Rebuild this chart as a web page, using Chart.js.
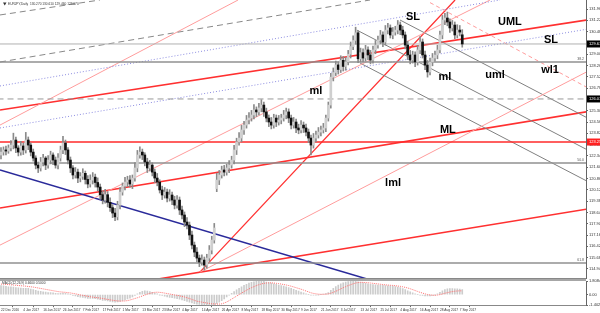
<!DOCTYPE html>
<html>
<head>
<meta charset="utf-8">
<script src="https://cdn.jsdelivr.net/npm/chart.js@4.4.1/dist/chart.umd.min.js"></script>
<style>
html, body { margin: 0; padding: 0; background: #fff; }
#wrap { position: relative; width: 600px; height: 313px; overflow: hidden; background: #fff; }
#cMain { position: absolute; left: 0; top: 0; }
#cMacd { position: absolute; left: 0; top: 279px; }
</style>
</head>
<body>
<div id="wrap">
  <canvas id="cMain" width="600" height="279"></canvas>
  <canvas id="cMacd" width="600" height="34"></canvas>
</div>
<script>
// fechas del eje x (indice de barra -> etiqueta)
const dateBars = [0, 9, 17, 25, 33, 41, 49, 57, 65, 73, 81, 89, 97, 105, 113, 121, 129, 137, 145, 153, 161, 169, 177, 185];
const dateLabels = ['22 Dec 2016', '4 Jan 2017', '16 Jan 2017', '26 Jan 2017', '7 Feb 2017', '17 Feb 2017', '1 Mar 2017',
    '13 Mar 2017', '23 Mar 2017', '4 Apr 2017', '14 Apr 2017', '26 Apr 2017', '8 May 2017', '18 May 2017', '30 May 2017',
    '9 Jun 2017', '21 Jun 2017', '3 Jul 2017', '13 Jul 2017', '25 Jul 2017', '4 Aug 2017', '16 Aug 2017', '28 Aug 2017', '7 Sep 2017'];

const priceTicks = [131.96, 131.22, 130.48, 129.74, 129.00, 128.26, 127.52, 126.78, 126.04, 125.30, 124.56, 123.82,
    123.08, 122.34, 121.60, 120.86, 120.12, 119.38, 118.64, 117.90, 117.16, 116.42, 115.68, 114.94];
const macdTicks = [1.8084, 0, -1.4027];

// velas EURJPY diario
const opens = [
    122.40,122.59,122.73,122.66,122.86,123.05,123.38,122.86,122.59,122.99,
    122.73,123.38,123.05,122.59,122.20,121.74,121.55,121.94,122.20,121.74,
    122.07,122.40,122.07,121.74,122.20,122.73,123.18,122.73,122.07,121.55,
    121.09,121.28,120.89,121.00,121.20,120.80,120.50,120.75,120.95,120.60,
    120.30,119.80,119.45,119.80,119.30,118.95,118.60,118.35,119.12,119.97,
    120.37,120.63,120.76,120.50,120.89,121.55,122.40,122.59,122.40,121.94,
    121.55,121.74,121.28,120.89,120.63,120.11,119.78,119.97,119.58,119.78,
    119.45,119.12,119.45,118.80,118.47,118.01,117.81,117.16,116.50,116.04,
    115.65,115.39,115.52,115.19,115.65,116.17,116.83,120.20,120.76,121.09,
    121.42,121.28,121.55,121.74,122.07,122.73,123.25,123.51,124.04,124.36,
    124.69,124.82,125.02,125.35,125.22,125.48,125.67,125.22,124.82,124.56,
    124.36,124.82,124.56,124.69,124.82,125.02,125.22,124.82,124.36,124.56,
    124.17,124.04,124.36,124.17,123.90,123.51,123.05,123.51,123.71,123.90,
    124.04,124.17,124.82,125.67,127.50,127.80,128.30,128.00,128.60,128.20,
    128.50,129.00,129.50,129.90,130.40,128.70,129.10,128.75,129.28,128.95,
    128.62,129.28,129.60,129.93,130.26,129.80,130.58,130.72,130.26,130.45,
    130.58,130.91,130.58,130.26,129.60,128.95,128.62,128.95,128.49,129.28,
    129.80,128.95,128.29,127.84,128.49,128.75,128.95,129.28,130.26,131.24,
    131.37,131.11,130.72,130.91,130.26,130.58,130.27];
const highs = [
    122.89,122.93,122.98,123.06,123.35,123.83,123.58,123.01,123.29,123.19,
    123.88,123.58,123.20,122.79,122.35,121.94,122.24,122.45,122.30,122.37,
    122.65,122.55,122.27,122.50,122.98,123.63,123.38,122.88,122.27,121.70,
    121.58,121.48,121.25,121.50,121.35,121.05,121.10,121.25,121.15,120.90,
    120.50,120.05,120.15,120.00,119.60,119.15,118.90,119.37,120.27,120.57,
    120.93,121.01,121.06,121.09,121.90,122.70,122.94,122.79,122.55,122.19,
    122.04,121.89,121.48,121.19,120.78,120.36,120.27,120.17,120.13,119.98,
    119.70,119.75,119.65,119.05,118.67,118.31,118.01,117.41,116.70,116.34,
    115.85,115.87,115.72,115.90,116.47,117.08,117.92,121.21,121.39,121.67,
    121.72,121.80,122.04,122.32,123.03,123.50,123.86,124.34,124.61,124.99,
    125.17,125.32,125.70,125.55,125.78,126.02,125.87,125.47,125.02,124.86,
    125.07,125.02,124.99,125.07,125.32,125.47,125.42,125.02,124.86,124.76,
    124.42,124.66,124.56,124.42,124.10,123.71,123.81,123.96,124.20,124.29,
    124.47,125.02,125.87,127.75,128.10,128.55,128.50,128.90,128.85,128.80,
    129.25,129.80,130.20,130.77,130.55,129.40,129.35,129.58,129.48,129.25,
    129.53,129.90,130.18,130.56,130.46,130.88,131.02,130.92,130.75,130.83,
    131.21,131.11,130.83,130.46,129.85,129.25,129.20,129.15,129.58,130.15,
    130.00,129.20,128.59,128.74,129.05,129.20,129.58,130.51,131.54,131.67,
    131.76,131.31,131.21,131.11,130.93,130.88,130.61];
const lows = [
    122.15,122.39,122.41,122.51,122.66,122.80,122.56,122.34,122.39,122.43,
    122.53,122.75,122.34,122.00,121.49,121.25,121.35,121.69,121.44,121.54,
    121.82,121.77,121.54,121.49,122.00,122.48,122.43,121.82,121.25,120.84,
    120.89,120.59,120.64,120.80,120.50,120.25,120.30,120.50,120.30,120.05,
    119.50,119.20,119.25,119.00,118.70,118.30,118.10,118.15,118.87,119.77,
    120.12,120.33,120.30,120.20,120.69,121.30,122.20,122.10,121.69,121.25,
    121.35,121.03,120.59,120.38,119.91,119.48,119.58,119.33,119.38,119.15,
    118.87,118.92,118.50,118.22,117.71,117.56,116.86,116.25,115.74,115.40,
    115.09,115.19,114.86,114.99,115.45,115.92,116.63,120.00,120.46,120.89,
    121.03,121.08,121.25,121.54,121.82,122.43,123.05,123.26,123.74,124.16,
    124.44,124.62,124.77,124.92,125.02,125.23,124.92,124.57,124.26,124.11,
    124.16,124.26,124.36,124.44,124.62,124.77,124.52,124.11,124.16,123.87,
    123.79,123.84,123.87,123.65,123.21,122.40,122.85,123.26,123.51,123.65,
    123.84,123.92,124.62,125.47,127.25,127.60,127.70,127.80,127.90,127.95,
    128.30,128.75,129.30,129.65,128.45,128.50,128.50,128.55,128.65,128.37,
    128.42,129.03,129.40,129.68,129.50,129.60,130.33,130.06,130.01,130.25,
    130.33,130.28,130.06,129.35,128.65,128.37,128.42,128.19,128.29,129.03,
    128.75,127.99,127.50,127.64,128.24,128.55,128.70,129.08,130.01,130.94,
    130.86,130.42,130.52,130.01,130.06,130.20,129.46];
const closes = [
    122.59,122.73,122.66,122.86,123.05,123.38,122.86,122.59,122.99,122.73,
    123.38,123.05,122.59,122.20,121.74,121.55,121.94,122.20,121.74,122.07,
    122.40,122.07,121.74,122.20,122.73,123.18,122.73,122.07,121.55,121.09,
    121.28,120.89,121.00,121.20,120.80,120.50,120.75,120.95,120.60,120.30,
    119.80,119.45,119.80,119.30,118.95,118.60,118.35,119.12,119.97,120.37,
    120.63,120.76,120.50,120.89,121.55,122.40,122.59,122.40,121.94,121.55,
    121.74,121.28,120.89,120.63,120.11,119.78,119.97,119.58,119.78,119.45,
    119.12,119.45,118.80,118.47,118.01,117.81,117.16,116.50,116.04,115.65,
    115.39,115.52,115.19,115.65,116.17,116.83,117.62,120.76,121.09,121.42,
    121.28,121.55,121.74,122.07,122.73,123.25,123.51,124.04,124.36,124.69,
    124.82,125.02,125.35,125.22,125.48,125.67,125.22,124.82,124.56,124.36,
    124.82,124.56,124.69,124.82,125.02,125.22,124.82,124.36,124.56,124.17,
    124.04,124.36,124.17,123.90,123.51,123.05,123.51,123.71,123.90,124.04,
    124.17,124.82,125.67,127.50,127.80,128.30,128.00,128.60,128.20,128.50,
    129.00,129.50,129.90,130.40,128.70,129.10,128.75,129.28,128.95,128.62,
    129.28,129.60,129.93,130.26,129.80,130.58,130.72,130.26,130.45,130.58,
    130.91,130.58,130.26,129.60,128.95,128.62,128.95,128.49,129.28,129.80,
    128.95,128.29,127.84,128.49,128.75,128.95,129.28,130.26,131.24,131.37,
    131.11,130.72,130.91,130.26,130.58,130.45,129.67];

// MACD(12,26,9)
const macdHist = [
    1.20,1.15,1.10,1.05,1.02,1.00,0.95,0.90,0.88,0.85,
    0.85,0.82,0.75,0.68,0.58,0.48,0.42,0.38,0.32,0.28,
    0.26,0.22,0.16,0.14,0.16,0.20,0.18,0.10,0.00,-0.10,
    -0.18,-0.26,-0.34,-0.38,-0.44,-0.50,-0.52,-0.52,-0.55,-0.60,
    -0.68,-0.76,-0.78,-0.84,-0.90,-0.96,-1.00,-0.98,-0.92,-0.82,
    -0.70,-0.58,-0.46,-0.30,-0.12,0.10,0.30,0.44,0.50,0.48,
    0.40,0.30,0.20,0.10,-0.02,-0.12,-0.22,-0.30,-0.36,-0.42,
    -0.48,-0.54,-0.62,-0.70,-0.80,-0.90,-1.02,-1.12,-1.20,-1.26,
    -1.30,-1.34,-1.38,-1.40,-1.40,-1.38,-1.34,-1.20,-1.02,-0.80,
    -0.56,-0.30,-0.06,0.18,0.40,0.62,0.84,1.04,1.22,1.38,
    1.52,1.62,1.70,1.76,1.80,1.81,1.76,1.68,1.60,1.52,
    1.44,1.36,1.28,1.20,1.12,1.04,0.94,0.82,0.70,0.58,
    0.46,0.34,0.22,0.10,0.00,-0.06,-0.08,-0.06,-0.04,0.00,
    0.06,0.14,0.28,0.56,0.84,1.08,1.28,1.44,1.56,1.66,
    1.74,1.80,1.81,1.78,1.70,1.62,1.56,1.50,1.44,1.38,
    1.34,1.30,1.28,1.26,1.22,1.20,1.18,1.16,1.12,1.06,
    1.00,0.92,0.80,0.66,0.50,0.36,0.22,0.10,0.00,-0.08,
    -0.12,-0.16,-0.18,-0.16,-0.10,-0.02,0.10,0.30,0.50,0.66,
    0.76,0.80,0.80,0.78,0.76,0.72,0.66];
const macdSignal = [
    1.40,1.38,1.36,1.33,1.30,1.27,1.24,1.21,1.18,1.15,
    1.12,1.08,1.04,1.00,0.94,0.88,0.82,0.76,0.70,0.64,
    0.58,0.52,0.46,0.40,0.36,0.33,0.30,0.26,0.22,0.16,
    0.10,0.04,-0.04,-0.10,-0.16,-0.22,-0.28,-0.34,-0.38,-0.42,
    -0.46,-0.52,-0.58,-0.64,-0.70,-0.75,-0.80,-0.84,-0.86,-0.86,
    -0.84,-0.80,-0.72,-0.62,-0.52,-0.42,-0.30,-0.18,-0.06,0.06,
    0.16,0.24,0.30,0.32,0.30,0.26,0.20,0.14,0.08,0.02,
    -0.04,-0.10,-0.16,-0.24,-0.32,-0.42,-0.52,-0.64,-0.76,-0.88,
    -0.94,-1.00,-1.06,-1.12,-1.17,-1.21,-1.24,-1.26,-1.26,-1.22,
    -1.12,-0.98,-0.80,-0.60,-0.40,-0.20,0.00,0.20,0.40,0.58,
    0.76,0.92,1.06,1.20,1.32,1.42,1.50,1.54,1.56,1.56,
    1.54,1.50,1.46,1.40,1.34,1.28,1.20,1.12,1.02,0.92,
    0.82,0.72,0.60,0.48,0.36,0.24,0.16,0.10,0.06,0.04,
    0.04,0.06,0.10,0.18,0.30,0.44,0.60,0.76,0.92,1.06,
    1.20,1.32,1.44,1.54,1.60,1.64,1.62,1.60,1.58,1.54,
    1.50,1.46,1.42,1.38,1.34,1.30,1.27,1.24,1.22,1.18,
    1.14,1.10,1.04,0.96,0.88,0.78,0.66,0.54,0.42,0.30,
    0.20,0.10,0.02,-0.04,-0.08,-0.09,-0.06,0.00,0.08,0.18,
    0.26,0.34,0.40,0.45,0.48,0.50,0.50];

// lineas de tendencia: [barra, precio] de cada extremo
const dashTopA = [[-0.4, 131.57], [39.9, 132.55]];
const dashTopB = [[-0.4, 128.49], [148.8, 132.55]];
const purpleUpper = [[-0.4, 126.92], [201.2, 132.55]];
const purpleSL = [[-0.4, 124.17], [241.5, 130.78]];
const umlLine = [[-0.4, 125.35], [241.5, 131.37]];
const mlLine = [[-0.4, 118.93], [241.5, 125.37]];
const lmlLine = [[60.0, 114.19], [241.5, 119.00]];
const steepRed = [[80.2, 114.73], [183.1, 132.55]];
const pinkLow = [[80.2, 114.73], [241.5, 128.29]];
const pinkMid = [[-0.4, 116.50], [197.2, 132.55]];
const pinkUp = [[-0.4, 124.36], [95.6, 132.55]];
const blueLine = [[-0.4, 121.42], [147.6, 114.28]];
const wl1Line = [[173.0, 132.38], [241.5, 126.37]];
const forkUpper = [[160.9, 131.24], [241.5, 124.40]];
const forkMedian = [[143.5, 130.58], [241.5, 122.31]];
const forkLower = [[144.8, 128.42], [241.5, 120.25]];

// niveles horizontales
const levelBid = 129.67;
const level382 = 128.49;
const levelDash = 126.07;
const levelRed = 123.25;
const level500 = 121.87;
const level618 = 115.33;

// textos sobre el grafico
const labelTexts = ['SL', 'UML', 'SL', 'ml', 'ml', 'uml', 'wl1', 'ML', 'lml'];
const labelBars = [166.1, 205.2, 221.8, 127.0, 179.0, 199.2, 221.4, 180.2, 158.1];
const labelPrices = [131.44, 131.11, 129.93, 126.59, 127.51, 127.64, 127.97, 124.04, 120.56];

const X_MIN = -0.4;
const X_MAX = 235.9;
const FONT = '"Liberation Sans", Arial, sans-serif';

function segmento(pts, color, ancho, dash) {
    return {
        type: 'line',
        data: pts.map(p => ({ x: p[0], y: p[1] })),
        borderColor: color,
        borderWidth: ancho,
        borderDash: dash || [],
        pointRadius: 0,
        fill: false,
        tension: 0,
        order: 3
    };
}

function horizontal(precio, color, ancho, dash) {
    return segmento([[X_MIN - 1, precio], [X_MAX + 1, precio]], color, ancho, dash);
}

const barras = closes.map((c, i) => i);

const overlayMain = {
    id: 'overlayMain',
    afterDatasetsDraw(chart) {
        const { ctx, chartArea } = chart;
        const x = chart.scales.x, y = chart.scales.y;
        ctx.save();
        // etiquetas de las lineas
        ctx.font = 'bold 11px ' + FONT;
        ctx.fillStyle = '#000';
        ctx.textAlign = 'center';
        ctx.textBaseline = 'middle';
        labelTexts.forEach((t, k) => {
            ctx.fillText(t, x.getPixelForValue(labelBars[k]), y.getPixelForValue(labelPrices[k]));
        });
        // niveles fibo
        ctx.font = '3.5px ' + FONT;
        ctx.textAlign = 'right';
        ctx.textBaseline = 'bottom';
        ctx.fillStyle = '#555';
        [[level382, '38.2'], [level500, '50.0'], [level618, '61.8']].forEach(f => {
            ctx.fillText(f[1], chartArea.right - 2, y.getPixelForValue(f[0]) - 1);
        });
        // titulo
        ctx.textAlign = 'left';
        ctx.textBaseline = 'middle';
        ctx.font = '3.2px ' + FONT;
        ctx.fillStyle = '#333';
        ctx.fillText('EURJPY,Daily  130.270 130.610 129.460 129.670', 8, 4);
        ctx.beginPath();
        ctx.moveTo(3, 2.5); ctx.lineTo(6.5, 2.5); ctx.lineTo(4.75, 5.5); ctx.closePath();
        ctx.fill();
        // borde inferior del panel
        ctx.strokeStyle = '#888';
        ctx.lineWidth = 1;
        ctx.beginPath();
        ctx.moveTo(0, chartArea.bottom - 0.5);
        ctx.lineTo(chartArea.right, chartArea.bottom - 0.5);
        ctx.stroke();
        ctx.restore();
    },
    afterDraw(chart) {
        const { ctx, chartArea } = chart;
        const y = chart.scales.y;
        ctx.save();
        ctx.font = '4px ' + FONT;
        ctx.textBaseline = 'middle';
        ctx.textAlign = 'left';
        [[levelBid, '#000'], [levelDash, '#000'], [levelRed, '#ff2020']].forEach(t => {
            const py = y.getPixelForValue(t[0]);
            ctx.fillStyle = t[1];
            ctx.fillRect(chartArea.right + 1, py - 3.5, 20, 7);
            ctx.fillStyle = '#fff';
            ctx.fillText(t[0].toFixed(3), chartArea.right + 3, py);
        });
        ctx.restore();
    }
};

new Chart(document.getElementById('cMain'), {
    type: 'bar',
    data: {
        datasets: [
            {
                type: 'bar',
                data: barras.map(i => ({ x: i, y: [opens[i], closes[i]] })),
                backgroundColor: ctx => {
                    const i = ctx.dataIndex;
                    return closes[i] >= opens[i] ? '#cfcfcf' : '#111111';
                },
                barThickness: 2,
                grouped: false,
                order: 0
            },
            {
                type: 'bar',
                data: barras.map(i => ({ x: i, y: [lows[i], highs[i]] })),
                backgroundColor: '#8a8a8a',
                barThickness: 1,
                grouped: false,
                order: 1
            },
            horizontal(levelBid, '#b0b0b0', 1),
            horizontal(level382, '#909090', 1.5),
            horizontal(levelDash, '#999999', 1, [6, 4]),
            horizontal(levelRed, '#ff2a2a', 1.5),
            horizontal(level500, '#909090', 1.5),
            horizontal(level618, '#909090', 1.5),
            segmento(dashTopA, '#888888', 1, [6, 4]),
            segmento(dashTopB, '#888888', 1, [6, 4]),
            segmento(purpleUpper, '#8c8ce0', 1, [1, 2]),
            segmento(purpleSL, '#8c8ce0', 1, [1, 2]),
            segmento(pinkUp, '#ff9c9c', 1),
            segmento(pinkMid, '#ff9c9c', 1),
            segmento(pinkLow, '#ff9c9c', 1),
            segmento(wl1Line, '#ff9c9c', 1, [4, 3]),
            segmento(forkUpper, '#808080', 1),
            segmento(forkMedian, '#808080', 1),
            segmento(forkLower, '#808080', 1),
            segmento(blueLine, '#2a2a9a', 1.5),
            segmento(umlLine, '#ff3030', 1.6),
            segmento(mlLine, '#ff3030', 1.6),
            segmento(lmlLine, '#ff3030', 1.6),
            segmento(steepRed, '#ff3030', 1.3)
        ]
    },
    options: {
        responsive: false,
        animation: false,
        layout: { padding: 0 },
        plugins: { legend: { display: false }, tooltip: { enabled: false } },
        scales: {
            x: { type: 'linear', min: X_MIN, max: X_MAX, display: false, offset: false },
            y: {
                type: 'linear',
                position: 'right',
                min: 114.28,
                max: 132.55,
                afterBuildTicks: s => { s.ticks = priceTicks.map(v => ({ value: v })); },
                afterFit: s => { s.width = 14; s.paddingTop = 0; s.paddingBottom = 0; },
                ticks: {
                    font: { size: 4, family: FONT },
                    color: '#333',
                    padding: 1,
                    callback: v => Number(v).toFixed(3)
                },
                grid: { drawOnChartArea: false, drawTicks: true, tickLength: 2, color: '#666' },
                border: { display: true, color: '#666' }
            }
        }
    },
    plugins: [overlayMain]
});

const overlayMacd = {
    id: 'overlayMacd',
    afterDraw(chart) {
        const { ctx, chartArea } = chart;
        ctx.save();
        ctx.strokeStyle = '#888';
        ctx.lineWidth = 1.5;
        ctx.beginPath();
        ctx.moveTo(0, 1);
        ctx.lineTo(chartArea.right, 1);
        ctx.stroke();
        ctx.font = '3.2px ' + FONT;
        ctx.fillStyle = '#333';
        ctx.textBaseline = 'middle';
        ctx.fillText('MACD(12,26,9) 0.6600 0.5000', 2, chartArea.top + 2.5);
        ctx.restore();
    }
};

new Chart(document.getElementById('cMacd'), {
    type: 'bar',
    data: {
        datasets: [
            {
                type: 'line',
                data: barras.map(i => ({ x: i, y: macdSignal[i] })),
                borderColor: '#ff7070',
                borderWidth: 1,
                borderDash: [1, 1],
                pointRadius: 0,
                tension: 0,
                order: 0
            },
            {
                type: 'bar',
                data: barras.map(i => ({ x: i, y: macdHist[i] })),
                backgroundColor: '#cccccc',
                barThickness: 1,
                grouped: false,
                order: 1
            }
        ]
    },
    options: {
        responsive: false,
        animation: false,
        layout: { padding: { top: 2, left: 0, right: 0, bottom: 0 } },
        plugins: { legend: { display: false }, tooltip: { enabled: false } },
        scales: {
            x: {
                type: 'linear',
                min: X_MIN,
                max: X_MAX,
                offset: false,
                afterBuildTicks: s => { s.ticks = dateBars.map(v => ({ value: v })); },
                ticks: {
                    font: { size: 3.2, family: FONT },
                    color: '#333',
                    padding: 1,
                    align: 'start',
                    autoSkip: false,
                    maxRotation: 0,
                    callback: v => dateLabels[dateBars.indexOf(v)]
                },
                grid: { drawOnChartArea: false, drawTicks: true, tickLength: 2, color: '#666' },
                border: { display: true, color: '#888' }
            },
            y: {
                type: 'linear',
                position: 'right',
                min: -1.4027,
                max: 1.8084,
                afterBuildTicks: s => { s.ticks = macdTicks.map(v => ({ value: v })); },
                afterFit: s => { s.width = 14; s.paddingTop = 0; s.paddingBottom = 0; },
                ticks: {
                    font: { size: 4, family: FONT },
                    color: '#333',
                    padding: 1,
                    callback: v => (v === 0 ? '0.00' : Number(v).toFixed(4))
                },
                grid: { drawOnChartArea: false, drawTicks: true, tickLength: 2, color: '#666' },
                border: { display: true, color: '#666' }
            }
        }
    },
    plugins: [overlayMacd]
});
</script>
</body>
</html>
